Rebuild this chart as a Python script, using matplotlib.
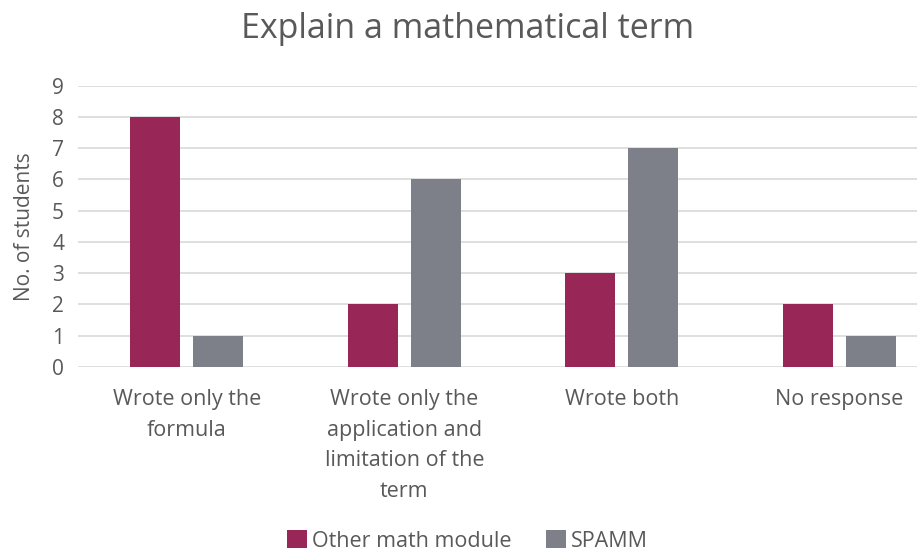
import matplotlib
matplotlib.use("Agg")
import matplotlib.pyplot as plt
import numpy as np

plt.rcParams['font.family'] = ['Open Sans', 'DejaVu Sans']

categories = ["Wrote only the\nformula",
              "Wrote only the\napplication and\nlimitation of the\nterm",
              "Wrote both",
              "No response"]
other_math = [8, 2, 3, 2]
spamm = [1, 6, 7, 1]

text_col = '#595959'
fig = plt.figure(figsize=(9.17, 5.6), dpi=100)
ax = fig.add_axes([0.085, 0.345, 0.949, 0.502])

x = np.arange(len(categories))
w = 0.23
off = 0.145
ax.bar(x - off, other_math, w, color='#982656', label='Other math module', zorder=3)
ax.bar(x + off, spamm, w, color='#7E8089', label='SPAMM', zorder=3)

ax.set_xlim(-0.5, 3.5)
ax.set_ylim(0, 9)
ax.set_yticks(range(10))
ax.yaxis.grid(True, color='#d9d9d9', linewidth=1.2, zorder=0)
for s in ax.spines.values():
    s.set_visible(False)
ax.tick_params(axis='both', length=0, colors=text_col, labelsize=15)
ax.tick_params(axis='x', pad=16)
ax.tick_params(axis='y', pad=10)
ax.set_xticks(x)
ax.set_xticklabels(categories, linespacing=1.6, va='top', fontsize=15.5)
ax.set_ylabel('No. of students', color=text_col, fontsize=15, labelpad=12)

fig.text(0.51, 0.948, 'Explain a mathematical term', ha='center', va='center',
         fontsize=24.5, color=text_col)
fig.legend(loc='lower center', bbox_to_anchor=(0.51, -0.02), ncol=2, frameon=False,
           fontsize=15.5, labelcolor=text_col, handlelength=0.9, handleheight=0.9,
           columnspacing=1.6, handletextpad=0.25)

fig.savefig('out.png', dpi=100)
